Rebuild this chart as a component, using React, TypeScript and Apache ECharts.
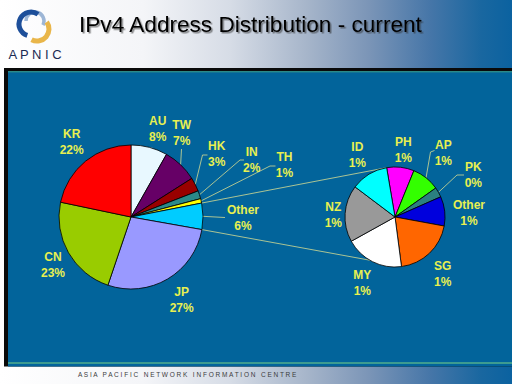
import React, { useEffect, useRef } from 'react';
import * as echarts from 'echarts';

// ---- data ----
const leftNames = ['AU', 'TW', 'HK', 'IN', 'TH', 'Other', 'JP', 'CN', 'KR'];
const leftValues = [8.2, 7.8, 3.1, 1.8, 1.0, 5.9, 27.4, 23.1, 21.7];
const leftPctLabels = ['8%', '7%', '3%', '2%', '1%', '6%', '27%', '23%', '22%'];

const rightNames = ['PH', 'AP', 'PK', 'Other', 'SG', 'MY', 'NZ', 'ID'];
const rightValues = [0.52, 0.53, 0.19, 0.56, 1.18, 1.12, 1.08, 0.71];
const rightPctLabels = ['1%', '1%', '0%', '1%', '1%', '1%', '1%', '1%'];

const titleText = 'IPv4 Address Distribution - current';
const footerText = 'A S I A   P A C I F I C   N E T W O R K   I N F O R M A T I O N   C E N T R E';
const logoText = 'A P N I C';

// ---- styles / layout ----
const leftColors = ['#e8f8ff', '#660066', '#990000', '#2b8a8a', '#ffff00', '#00ccff', '#9999ff', '#99cc00', '#ff0000'];
const rightColors = ['#ff00ff', '#33ff00', '#2b8080', '#0000dd', '#ff6600', '#ffffff', '#999999', '#00ffff'];

const LABEL_COLOR = '#e8f050';
const GUIDE_COLOR = '#d6dc92';
const FONT = "'Liberation Sans', Arial, sans-serif";

const LEFT_C = [131, 217];
const LEFT_R = 72;
const RIGHT_C = [395, 217];
const RIGHT_R = 50;
const RIGHT_START = 99.6; // echarts startAngle (deg)

const leftLabelPos = [
  [157.7, 128.5], [181.7, 133], [216.7, 153.5], [251.7, 160], [284.5, 165],
  [243, 218.3], [181.7, 300], [53, 265], [71.7, 142.3],
];
const leftGuides: (number[][] | null)[] = [
  null,
  [[181.5, 149], [181.5, 149]],
  [[202.5, 155], [207.5, 155]],
  [[240, 160], [244, 160]],
  [[270, 166], [275.5, 166]],
  [[225, 217.5], [225, 217.5]],
  null, null, null,
];

const rightLabelPos = [
  [403.3, 149.5], [443.3, 153.3], [473.3, 174.5], [469, 213],
  [442.7, 274], [362.3, 283.3], [333.3, 215.3], [357.3, 155],
];
const rightGuides: (number[][] | null)[] = [
  null,
  [[430.5, 152], [434.5, 150.5]],
  [[457, 175], [464, 175]],
  null, null, null, null, null,
];

function pointAt(c: number[], r: number, degFromTop: number) {
  const a = (degFromTop * Math.PI) / 180;
  return [c[0] + r * Math.sin(a), c[1] - r * Math.cos(a)];
}

function midAnchor(values: number[], idx: number, c: number[], r: number, startFromTop: number) {
  const total = values.reduce((s, v) => s + v, 0);
  let before = 0;
  for (let i = 0; i < idx; i++) before += values[i];
  const mid = startFromTop + ((before + values[idx] / 2) / total) * 360;
  return pointAt(c, r, mid);
}

export default function App() {
  const ref = useRef<HTMLDivElement>(null);

  useEffect(() => {
    document.body.style.margin = '0';
    const chart = echarts.init(ref.current!, null, { renderer: 'svg', width: 512, height: 384 });

    // connector lines between the "Other" slice and the secondary pie
    const leftTotal = leftValues.reduce((s, v) => s + v, 0);
    const otherIdx = leftNames.indexOf('Other');
    let beforeOther = 0;
    for (let i = 0; i < otherIdx; i++) beforeOther += leftValues[i];
    const otherStartDeg = (beforeOther / leftTotal) * 360;
    const otherEndDeg = ((beforeOther + leftValues[otherIdx]) / leftTotal) * 360;
    const rightStartFromTop = 90 - RIGHT_START;
    const pA = pointAt(LEFT_C, LEFT_R, otherStartDeg);
    const pB = pointAt(LEFT_C, LEFT_R, otherEndDeg);
    const qA = pointAt(RIGHT_C, RIGHT_R, rightStartFromTop);
    const qB = pointAt(RIGHT_C, RIGHT_R, rightStartFromTop + 180);

    const labelCommon = {
      show: true,
      position: 'outside',
      color: LABEL_COLOR,
      fontFamily: FONT,
      fontWeight: 'bold',
      fontSize: 12,
      lineHeight: 16,
    };

    const makeLayout = (
      pos: number[][],
      guides: (number[][] | null)[],
      values: number[],
      c: number[],
      r: number,
      startFromTop: number
    ) => (params: any) => {
      const i = params.dataIndex;
      const out: any = { x: pos[i][0], y: pos[i][1], align: 'center', verticalAlign: 'middle' };
      const g = guides[i];
      if (g) {
        const p0 =
          params.labelLinePoints && params.labelLinePoints[0]
            ? params.labelLinePoints[0]
            : midAnchor(values, i, c, r, startFromTop);
        out.labelLinePoints = [p0, g[0], g[1]];
      }
      return out;
    };

    const option: any = {
      animation: false,
      graphic: [
        {
          type: 'rect', z: -20, silent: true,
          shape: { x: 0, y: 0, width: 512, height: 384 },
          style: {
            fill: new echarts.graphic.LinearGradient(0, 0, 1, 0, [
              { offset: 0, color: '#ffffff' },
              { offset: 0.28, color: '#f4f5f8' },
              { offset: 0.45, color: '#d6dce6' },
              { offset: 0.6, color: '#a6b5ca' },
              { offset: 0.72, color: '#7b95b7' },
              { offset: 0.84, color: '#4676a8' },
              { offset: 0.94, color: '#1967a0' },
              { offset: 1, color: '#0b62a0' },
            ]),
          },
        },
        { type: 'rect', z: -19, silent: true, shape: { x: 4, y: 68, width: 508, height: 298.5 }, style: { fill: '#0a0a0a' } },
        { type: 'rect', z: -18, silent: true, shape: { x: 8, y: 71, width: 504, height: 295.5 }, style: { fill: '#02649b' } },
        { type: 'line', z: -17, silent: true, shape: { x1: 8, y1: 71.8, x2: 512, y2: 71.8 }, style: { stroke: '#3d9a82', lineWidth: 1 } },
        { type: 'line', z: -17, silent: true, shape: { x1: 8, y1: 363, x2: 512, y2: 363 }, style: { stroke: '#52ae8c', lineWidth: 1.3 } },
        // logo swirl
        { type: 'arc', z: -10, silent: true, shape: { cx: 35, cy: 21, r: 9, startAngle: Math.PI * 1.0, endAngle: Math.PI * 2.15, clockwise: true }, style: { stroke: '#9db6d6', lineWidth: 3.5, fill: 'none' } },
        { type: 'arc', z: -9, silent: true, shape: { cx: 31, cy: 24, r: 12, startAngle: Math.PI * 0.6, endAngle: Math.PI * 1.7, clockwise: true }, style: { stroke: '#1d4f9a', lineWidth: 5, fill: 'none' } },
        { type: 'arc', z: -9, silent: true, shape: { cx: 37, cy: 29, r: 12, startAngle: -Math.PI * 0.2, endAngle: Math.PI * 0.65, clockwise: true }, style: { stroke: '#e9b64a', lineWidth: 5, fill: 'none' } },
        {
          type: 'text', z: -5, silent: true, x: 35, y: 54.5,
          style: { text: logoText, font: `13px ${FONT}`, fill: '#1b2a52', align: 'center', verticalAlign: 'middle' },
        },
        {
          type: 'text', z: -5, silent: true, x: 79, y: 24,
          style: {
            text: titleText, font: `22.6px ${FONT}`, fill: '#000000', align: 'left', verticalAlign: 'middle',
            textShadowColor: 'rgba(40,40,40,0.55)', textShadowOffsetX: 1.5, textShadowOffsetY: 1.5, textShadowBlur: 1,
          },
        },
        {
          type: 'text', z: -5, silent: true, x: 78, y: 374,
          style: { text: footerText, font: `6.5px ${FONT}`, fill: '#3c3c3c', align: 'left', verticalAlign: 'middle' },
        },
        { type: 'line', z: 1, silent: true, shape: { x1: pA[0], y1: pA[1], x2: qA[0], y2: qA[1] }, style: { stroke: GUIDE_COLOR, lineWidth: 0.8 } },
        { type: 'line', z: 1, silent: true, shape: { x1: pB[0], y1: pB[1], x2: qB[0], y2: qB[1] }, style: { stroke: GUIDE_COLOR, lineWidth: 0.8 } },
      ],
      series: [
        {
          type: 'pie',
          center: LEFT_C,
          radius: LEFT_R,
          startAngle: 90,
          clockwise: true,
          avoidLabelOverlap: false,
          itemStyle: { borderColor: '#000000', borderWidth: 0.8 },
          label: {
            ...labelCommon,
            formatter: (p: any) => `${p.name}\n${leftPctLabels[p.dataIndex]}`,
          },
          labelLine: { show: false, lineStyle: { color: GUIDE_COLOR, width: 0.8 } },
          labelLayout: makeLayout(leftLabelPos, leftGuides, leftValues, LEFT_C, LEFT_R, 0),
          emphasis: { disabled: true },
          data: leftNames.map((n, i) => ({
            name: n,
            value: leftValues[i],
            itemStyle: { color: leftColors[i] },
            labelLine: { show: !!leftGuides[i] },
          })),
        },
        {
          type: 'pie',
          center: RIGHT_C,
          radius: RIGHT_R,
          startAngle: RIGHT_START,
          clockwise: true,
          avoidLabelOverlap: false,
          itemStyle: { borderColor: '#000000', borderWidth: 0.8 },
          label: {
            ...labelCommon,
            formatter: (p: any) => `${p.name}\n${rightPctLabels[p.dataIndex]}`,
          },
          labelLine: { show: false, lineStyle: { color: GUIDE_COLOR, width: 0.8 } },
          labelLayout: makeLayout(rightLabelPos, rightGuides, rightValues, RIGHT_C, RIGHT_R, rightStartFromTop),
          emphasis: { disabled: true },
          data: rightNames.map((n, i) => ({
            name: n,
            value: rightValues[i],
            itemStyle: { color: rightColors[i] },
            labelLine: { show: !!rightGuides[i] },
          })),
        },
      ],
    };

    chart.setOption(option);
    return () => chart.dispose();
  }, []);

  return <div ref={ref} style={{ position: 'absolute', left: 0, top: 0, width: 512, height: 384 }} />;
}
